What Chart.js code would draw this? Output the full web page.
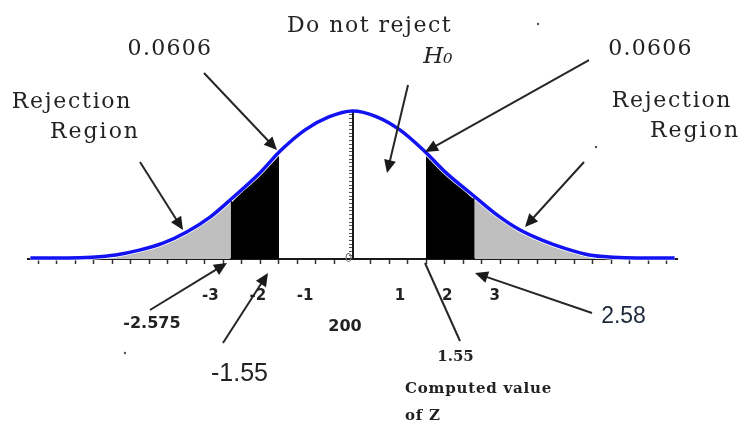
<!DOCTYPE html>
<html><head><meta charset="utf-8">
<script src="https://cdn.jsdelivr.net/npm/chart.js@4/dist/chart.umd.min.js"></script>
<style>html,body{margin:0;padding:0;background:#fff;}#wrap{width:744px;height:426px;}</style>
</head><body><div id="wrap"><canvas id="c" width="744" height="426"></canvas></div>
<script>
// ---- data ----
const curveZ = [-6.8, -6, -5.5, -5, -4.5, -4, -3.5, -3, -2.5, -2, -1.5, -1, -0.5, 0, 0.5, 1, 1.5, 2, 2.5, 3, 3.5, 4, 4.5, 5, 5.5, 6, 6.8];
const curveH = [0.003, 0.003, 0.005, 0.011, 0.024, 0.043, 0.073, 0.114, 0.169, 0.227, 0.295, 0.349, 0.384, 0.4, 0.385, 0.349, 0.294, 0.230, 0.177, 0.124, 0.081, 0.051, 0.028, 0.011, 0.005, 0.003, 0.003];
const criticalZ = [-2.575, -1.55, 1.55, 2.58];
const criticalH = [0.159, 0.289, 0.288, 0.168];
const xTickValues = [-3, -2, -1, 1, 2, 3];
const xTickLabels = ['-3', '-2', '-1', '1', '2', '3'];
const yZeroLabel = '0';
const minorTickStep = 0.39;
const yTickStep = 0.01;

function region(a, ha, b, hb) {
  const pts = [{x: a, y: ha}];
  curveZ.forEach((z, i) => { if (z > a && z < b) pts.push({x: z, y: curveH[i]}); });
  pts.push({x: b, y: hb});
  return pts;
}
const curve = curveZ.map((z, i) => ({x: z, y: curveH[i]}));
const greyLeft = region(curveZ[0], curveH[0], criticalZ[0], criticalH[0]);
const blackLeft = region(criticalZ[0], criticalH[0], criticalZ[1], criticalH[1]);
const blackRight = region(criticalZ[2], criticalH[2], criticalZ[3], criticalH[3]);
const greyRight = region(criticalZ[3], criticalH[3], curveZ[curveZ.length - 1], curveH[curveH.length - 1]);

const serif = 'DejaVu Serif';
const texts = [
  {t: 'Do not reject', x: 0.359, y: 0.6135, font: '22px ' + serif, ls: 1.5},
  {t: 'H\u2080', x: 1.80, y: 0.530, font: 'italic 23px ' + serif, ls: 0},
  {t: '0.0606', x: -3.853, y: 0.5514, font: '22px ' + serif, ls: 1.3},
  {t: '0.0606', x: 6.291, y: 0.5514, font: '22px ' + serif, ls: 1.3},
  {t: 'Rejection', x: -5.921, y: 0.408, font: '22px ' + serif, ls: 1.7},
  {t: 'Region', x: -5.436, y: 0.327, font: '22px ' + serif, ls: 2},
  {t: 'Rejection', x: 6.745, y: 0.4108, font: '22px ' + serif, ls: 1.7},
  {t: 'Region', x: 7.230, y: 0.3297, font: '22px ' + serif, ls: 2},
  {t: '-2.575', x: -4.233, y: -0.1865, font: 'bold 16px DejaVu Sans', ls: 0},
  {t: '200', x: -0.158, y: -0.1946, font: 'bold 16px DejaVu Sans', ls: 0},
  {t: '-1.55', x: -2.385, y: -0.3297, font: '25px Liberation Sans', ls: 0},
  {t: '2.58', x: 5.721, y: -0.173, font: '23px Liberation Sans', ls: 0, color: '#1f2a3c'},
  {t: '1.55', x: 2.174, y: -0.2757, font: 'bold 15px ' + serif, ls: 0},
  {t: 'Computed value', x: 1.108, y: -0.362, font: 'bold 15px ' + serif, ls: 0.8, align: 'left'},
  {t: 'of Z', x: 1.108, y: -0.435, font: 'bold 15px ' + serif, ls: 0.8, align: 'left'}
];
const arrows = [
  {x1: -3.135, y1: 0.5027, x2: -1.594, y2: 0.2946, head: true},
  {x1: -4.486, y1: 0.2622, x2: -3.578, y2: 0.0784, head: true},
  {x1: 1.172, y1: 0.4703, x2: 0.728, y2: 0.2324, head: true},
  {x1: 4.992, y1: 0.5378, x2: 1.530, y2: 0.2892, head: true},
  {x1: 4.887, y1: 0.2622, x2: 3.641, y2: 0.0865, head: true},
  {x1: -4.275, y1: -0.1378, x2: -2.649, y2: -0.0108, head: true},
  {x1: -2.734, y1: -0.227, x2: -1.784, y2: -0.0378, head: true},
  {x1: 1.530, y1: -0.0108, x2: 2.269, y2: -0.2216, head: false},
  {x1: 5.056, y1: -0.1459, x2: 2.586, y2: -0.0378, head: true}
];
const specks = [{x: -4.803, y: -0.254}, {x: 3.916, y: 0.635}, {x: 5.140, y: 0.3027}];

const annot = {
  id: 'annot',
  afterDraw(chart) {
    const {ctx} = chart;
    const X = v => chart.scales.x.getPixelForValue(v);
    const Y = v => chart.scales.y.getPixelForValue(v);
    ctx.save();
    ctx.strokeStyle = '#262626';
    ctx.fillStyle = '#1a1a1a';
    ctx.lineWidth = 2;
    arrows.forEach(a => {
      const x1 = X(a.x1), y1 = Y(a.y1), x2 = X(a.x2), y2 = Y(a.y2);
      const ang = Math.atan2(y2 - y1, x2 - x1);
      const hl = a.head ? 13 : 0, hw = 6;
      ctx.beginPath();
      ctx.moveTo(x1, y1);
      ctx.lineTo(x2 - Math.cos(ang) * hl * 0.8, y2 - Math.sin(ang) * hl * 0.8);
      ctx.stroke();
      if (a.head) {
        const bx = x2 - Math.cos(ang) * hl, by = y2 - Math.sin(ang) * hl;
        ctx.beginPath();
        ctx.moveTo(x2, y2);
        ctx.lineTo(bx + Math.sin(ang) * hw, by - Math.cos(ang) * hw);
        ctx.lineTo(bx - Math.sin(ang) * hw, by + Math.cos(ang) * hw);
        ctx.closePath();
        ctx.fill();
      }
    });
    specks.forEach(s => { ctx.beginPath(); ctx.arc(X(s.x), Y(s.y), 1.2, 0, Math.PI * 2); ctx.fillStyle = '#555'; ctx.fill(); });
    ctx.textBaseline = 'alphabetic';
    texts.forEach(t => {
      ctx.font = t.font;
      ctx.fillStyle = t.color || '#222';
      ctx.textAlign = t.align || 'center';
      try { ctx.letterSpacing = t.ls + 'px'; } catch (e) {}
      ctx.fillText(t.t, X(t.x), Y(t.y));
    });
    ctx.restore();
  }
};

const fillBase = {pointRadius: 0, borderColor: '#ffffff', borderWidth: 5, fill: 'origin', cubicInterpolationMode: 'monotone', clip: false};
new Chart(document.getElementById('c'), {
  type: 'line',
  data: {
    datasets: [
      {data: curve, borderColor: '#1212f2', borderWidth: 3.5, pointRadius: 0, fill: false, cubicInterpolationMode: 'monotone', clip: false},
      Object.assign({data: blackLeft, backgroundColor: '#000000'}, fillBase),
      Object.assign({data: blackRight, backgroundColor: '#000000'}, fillBase),
      Object.assign({data: greyLeft, backgroundColor: '#bfbfbf'}, fillBase),
      Object.assign({data: greyRight, backgroundColor: '#bfbfbf'}, fillBase)
    ]
  },
  options: {
    responsive: false, animation: false, devicePixelRatio: 1,
    layout: {padding: {left: 28, right: 67, top: 111, bottom: 167}},
    plugins: {legend: {display: false}, tooltip: {enabled: false}},
    scales: {
      x: {
        type: 'linear', min: -6.85, max: 6.85, position: {y: 0}, z: 1,
        border: {display: true, color: '#1a1a1a', width: 2},
        grid: {drawOnChartArea: false, drawTicks: true, tickLength: 4, tickWidth: 1.5,
          tickColor: c => (c.tick && c.tick.isLabel) ? 'rgba(0,0,0,0)' : '#333'},
        afterBuildTicks: s => {
          const arr = [];
          for (let k = -17; k <= 17; k++) { if (k !== 0) arr.push({value: k * minorTickStep}); }
          xTickValues.forEach(v => arr.push({value: v, isLabel: true}));
          arr.sort((a, b) => a.value - b.value);
          s.ticks = arr;
        },
        ticks: {autoSkip: false, maxRotation: 0, padding: 24, color: '#222',
          font: {family: 'DejaVu Sans', size: 15, weight: 'bold'},
          callback: function (v, i, ticks) { return ticks[i].isLabel ? xTickLabels[xTickValues.indexOf(v)] : ''; }}
      },
      y: {
        type: 'linear', min: 0, max: 0.4, position: {x: 0}, z: 1,
        border: {display: true, color: '#1a1a1a', width: 2},
        grid: {drawOnChartArea: false, drawTicks: true, tickLength: 3, tickWidth: 1, tickColor: '#555'},
        afterBuildTicks: s => {
          const arr = [];
          for (let k = 0; k <= 40; k++) arr.push({value: k * yTickStep});
          s.ticks = arr;
        },
        ticks: {autoSkip: false, padding: 10, color: '#777', font: {family: 'DejaVu Sans', size: 12},
          callback: (v) => v === 0 ? yZeroLabel : ''}
      }
    }
  },
  plugins: [annot]
});
</script></body></html>
